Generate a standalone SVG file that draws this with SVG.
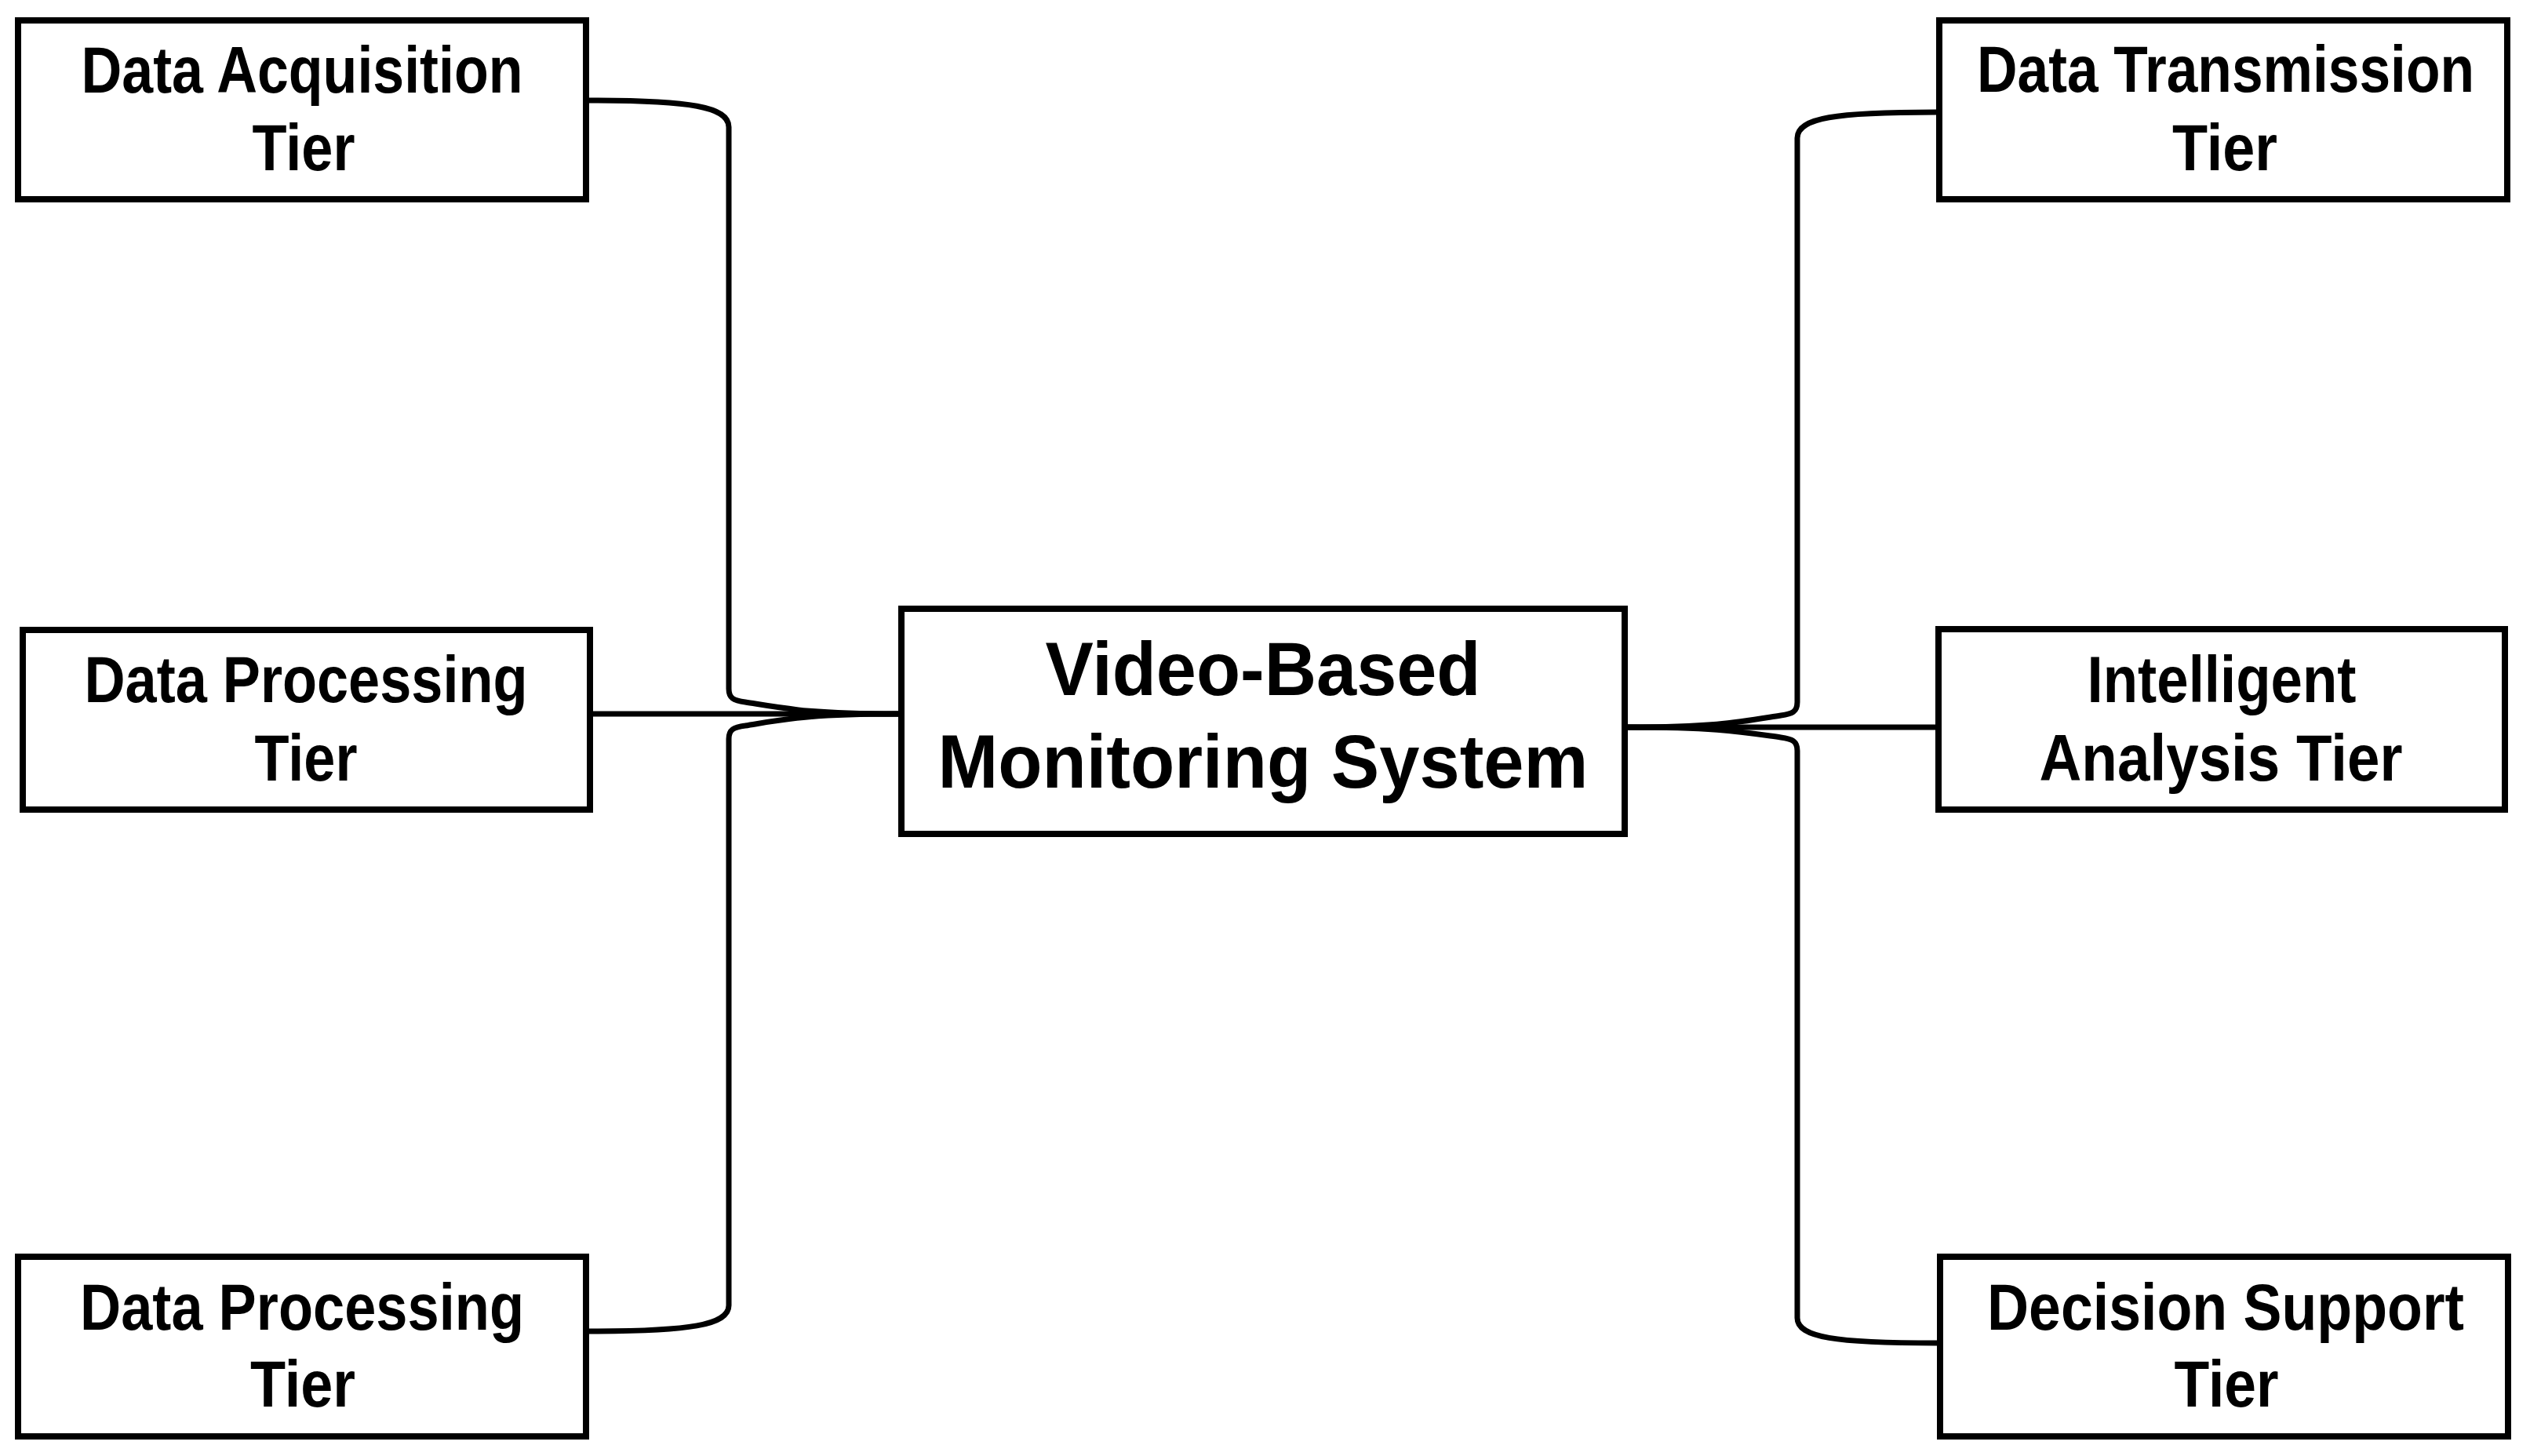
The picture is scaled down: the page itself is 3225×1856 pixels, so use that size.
<svg xmlns="http://www.w3.org/2000/svg" width="3225" height="1856" viewBox="0 0 3225 1856">
<style>
.box{fill:#fff;stroke:#000;stroke-width:8}
.t{font-family:"Liberation Sans",Arial,sans-serif;font-weight:bold;font-size:84px;fill:#000;text-anchor:middle}
.tc{font-family:"Liberation Sans",Arial,sans-serif;font-weight:bold;font-size:97px;fill:#000;text-anchor:middle}
.c{fill:none;stroke:#000;stroke-width:7;stroke-linecap:butt;stroke-linejoin:round}
</style>
<rect width="3225" height="1856" fill="#fff"/>
<g id="connectors">
<path class="c" d="M751 128 C880 128 929 136 929 162 L929 878 C929 890 935 893 950 895 C1000 903 1030 910 1145 910"/>
<path class="c" d="M752 910 L1145 910"/>
<path class="c" d="M751 1697 C880 1697 929 1689 929 1664 L929 942 C929 930 935 927 950 925 C1000 917 1030 910 1145 910"/>
<path class="c" d="M2468 143 C2340 143 2291 150 2291 176 L2291 895 C2291 907 2285 910 2270 912 C2220 920 2190 927 2075 927"/>
<path class="c" d="M2467 927 L2075 927"/>
<path class="c" d="M2469 1712 C2340 1712 2291 1705 2291 1680 L2291 957 C2291 945 2285 942 2270 940 C2220 933 2190 927 2075 927"/>
</g>
<g id="center">
<rect class="box" x="1149" y="776" width="922" height="287"/>
<text class="tc" x="1610" y="886" textLength="555" lengthAdjust="spacingAndGlyphs">Video-Based</text>
<text class="tc" x="1610" y="1004" textLength="829" lengthAdjust="spacingAndGlyphs">Monitoring System</text>
</g>
<g id="acquisition">
<rect class="box" x="23" y="26" width="724" height="228"/>
<text class="t" x="385" y="118" textLength="563" lengthAdjust="spacingAndGlyphs">Data Acquisition</text>
<text class="t" x="387" y="217" textLength="131" lengthAdjust="spacingAndGlyphs">Tier</text>
</g>
<g id="processing1">
<rect class="box" x="29" y="803" width="723" height="229"/>
<text class="t" x="390" y="895" textLength="565" lengthAdjust="spacingAndGlyphs">Data Processing</text>
<text class="t" x="390" y="995" textLength="131" lengthAdjust="spacingAndGlyphs">Tier</text>
</g>
<g id="processing2">
<rect class="box" x="23" y="1602" width="724" height="229"/>
<text class="t" x="385" y="1695" textLength="566" lengthAdjust="spacingAndGlyphs">Data Processing</text>
<text class="t" x="386" y="1793" textLength="134" lengthAdjust="spacingAndGlyphs">Tier</text>
</g>
<g id="transmission">
<rect class="box" x="2472" y="26" width="724" height="228"/>
<text class="t" x="2837" y="117" font-size="80" textLength="634" lengthAdjust="spacingAndGlyphs">Data Transmission</text>
<text class="t" x="2836" y="217" textLength="134" lengthAdjust="spacingAndGlyphs">Tier</text>
</g>
<g id="analysis">
<rect class="box" x="2471" y="802" width="722" height="230"/>
<text class="t" x="2832" y="895" textLength="343" lengthAdjust="spacingAndGlyphs">Intelligent</text>
<text class="t" x="2831" y="995" textLength="463" lengthAdjust="spacingAndGlyphs">Analysis Tier</text>
</g>
<g id="decision">
<rect class="box" x="2473" y="1602" width="724" height="229"/>
<text class="t" x="2837" y="1695" textLength="608" lengthAdjust="spacingAndGlyphs">Decision Support</text>
<text class="t" x="2838" y="1793" textLength="133" lengthAdjust="spacingAndGlyphs">Tier</text>
</g>
</svg>
